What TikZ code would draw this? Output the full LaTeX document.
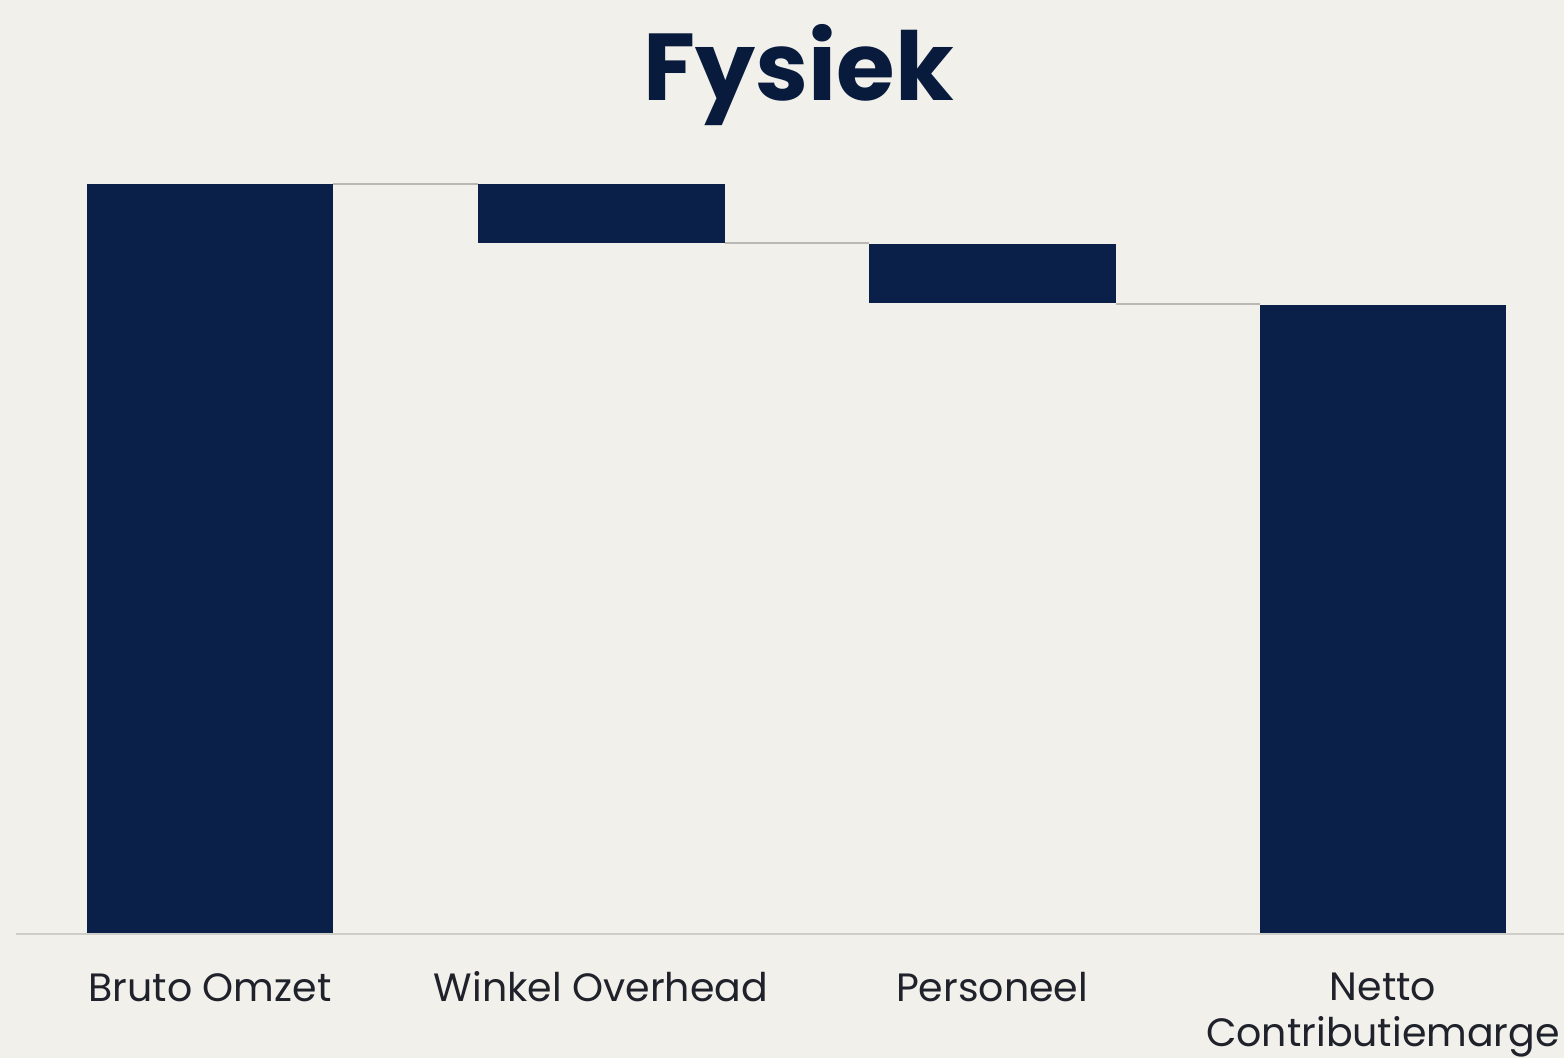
\documentclass[tikz,border=0pt]{standalone}
\usepackage{fontspec}
\setmainfont{Poppins}
\definecolor{paper}{HTML}{F2F0EB}
\definecolor{navy}{HTML}{0B2048}
\definecolor{ink}{HTML}{1F222B}
\definecolor{rule}{HTML}{CFCDC8}
\begin{document}
\begin{tikzpicture}[x=1pt,y=-1pt,
  bar/.style={fill=navy,draw=none},
  link/.style={draw=rule!90!black,line width=1.6pt},
  axisline/.style={draw=rule,line width=1.8pt},
  cat/.style={text=ink,font=\fontsize{39.5}{50}\selectfont,align=center,anchor=base},
  heading/.style={text=navy!85!black,font=\fontsize{95}{110}\selectfont\bfseries,anchor=base}]
  % canvas
  \fill[paper] (0,0) rectangle (1564,1058);
  \useasboundingbox (0,0) rectangle (1564,1058);
  % title
  \node[heading] (title) at (799,100) {Fysiek};
  % baseline axis
  \coordinate (axL) at (16,934);
  \coordinate (axR) at (1564,934);
  \draw[axisline] (axL) -- (axR);
  % waterfall bars
  \path[bar] (87,184) rectangle (333,933);
  \coordinate (b1r) at (333,184);
  \path[bar] (478,184) rectangle (725,243);
  \coordinate (b2l) at (478,184);
  \coordinate (b2r) at (725,243);
  \path[bar] (869,244) rectangle (1116,303);
  \coordinate (b3l) at (869,243);
  \coordinate (b3r) at (1116,304);
  \path[bar] (1260,305) rectangle (1506,933);
  \coordinate (b4l) at (1260,304);
  % step connectors
  \draw[link] (b1r) -- (b2l);
  \draw[link] (b2r) -- (b3l);
  \draw[link] (b3r) -- (b4l);
  % category labels
  \node[cat] (l1) at (210,1001) {Bruto Omzet};
  \node[cat] (l2) at (601,1001) {Winkel Overhead};
  \node[cat] (l3) at (992,1001) {Personeel};
  \node[cat] (l4) at (1383,1000) {Netto};
  \node[cat] (l5) at (1383,1046) {Contributiemarge};
\end{tikzpicture}
\end{document}
